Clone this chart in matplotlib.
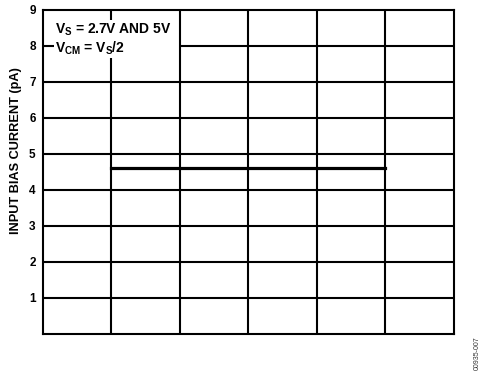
import matplotlib
matplotlib.use("Agg")
import matplotlib.pyplot as plt
from matplotlib.patches import Rectangle

plt.rcParams['font.family'] = ['Liberation Sans', 'DejaVu Sans']
plt.rcParams['mathtext.fontset'] = 'custom'
plt.rcParams['mathtext.rm'] = 'Liberation Sans:bold'
plt.rcParams['mathtext.it'] = 'Liberation Sans:bold'
plt.rcParams['mathtext.bf'] = 'Liberation Sans:bold'

# data (x axis has no labels; six equal divisions)
x_bias = [1, 5]
i_bias = [4.62, 4.62]  # pA
y_ticks = [1, 2, 3, 4, 5, 6, 7, 8, 9]
x_divs = [0, 1, 2, 3, 4, 5, 6]

fig = plt.figure(figsize=(4.9, 3.81), dpi=100)
ax = fig.add_axes([0.087, 0.1234, 0.8395, 0.8504])
ax.set_xlim(0, 6)
ax.set_ylim(0, 9)

# grid
for y in y_ticks[:-1]:
    ax.axhline(y, color="black", lw=1.5, zorder=1)
for x in x_divs[1:-1]:
    ax.axvline(x, color="black", lw=1.5, zorder=1 if x == 1 else 3)

# white area behind the annotation text
ax.add_patch(Rectangle((0.165, 7.67), 2.0 - 0.165, 8.72 - 7.67,
                       facecolor="white", edgecolor="none", zorder=2))

ax.plot(x_bias, i_bias, color="black", lw=2.3, zorder=4)

ax.text(0.18, 8.45, r"V$_\mathrm{S}$ = 2.7V AND 5V", fontsize=10,
        fontweight="bold", va="center", ha="left", zorder=5)
ax.text(0.18, 7.93, r"V$_\mathrm{CM}$ = V$_\mathrm{S}$/2", fontsize=10,
        fontweight="bold", va="center", ha="left", zorder=5)

ax.set_xticks([])
ax.set_yticks(y_ticks)
ax.set_yticklabels([str(t) for t in y_ticks], fontsize=8.5, fontweight="bold")
ax.tick_params(axis="y", length=0, pad=5)
for s in ax.spines.values():
    s.set_linewidth(1.5)
    s.set_zorder(6)

ax.set_ylabel("INPUT BIAS CURRENT (pA)", fontsize=9.2, fontweight="bold")
ax.yaxis.set_label_coords(-0.05, 0.565)

fig.text(0.973, 0.029, "00935-007", rotation=90, fontsize=5,
         ha="center", va="bottom", color="#333333")

fig.savefig("out.png", dpi=100)
